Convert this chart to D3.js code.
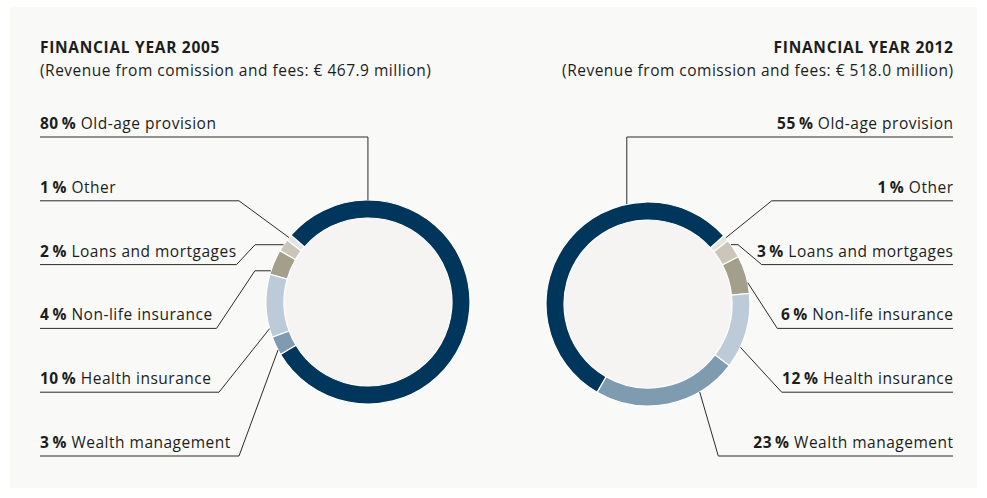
<!DOCTYPE html>
<html>
<head>
<meta charset="utf-8">
<script src="https://cdn.jsdelivr.net/npm/d3@7/dist/d3.min.js"></script>
<style>
  html, body { margin: 0; padding: 0; background: #ffffff; }
  svg { display: block; }
  text { font-family: "Open Sans", "Noto Sans", sans-serif; fill: #1d1d1b; }
</style>
</head>
<body>
<svg id="chart" width="987" height="498"></svg>
<script>
// ---------- data ----------
const categories = ["Other", "Loans and mortgages", "Non-life insurance", "Health insurance", "Wealth management", "Old-age provision"];
const values2005 = [1, 2, 4, 10, 3, 80];
const values2012 = [1, 3, 6, 12, 23, 55];
const titles = ["FINANCIAL YEAR 2005", "FINANCIAL YEAR 2012"];
const subtitles = ["(Revenue from comission and fees: \u20AC 467.9 million)", "(Revenue from comission and fees: \u20AC 518.0 million)"];
// order of the labels from top to bottom
const labelOrder = ["Old-age provision", "Other", "Loans and mortgages", "Non-life insurance", "Health insurance", "Wealth management"];

// ---------- style / layout ----------
const colors = {
  "Old-age provision": "#00365c",
  "Wealth management": "#7f9bb0",
  "Health insurance": "#bccbd7",
  "Non-life insurance": "#a39f8b",
  "Loans and mortgages": "#cac6ba",
  "Other": "#e5e4df"
};
const panelFill = "#f9f9f8";
const innerFill = "#f5f4f3";
const rOuter = 102, rInner = 84;
const rowY0 = 137, rowStep = 63.8;
const labelFont = 15.5, labelSpacing = 0.5;

const layouts = [
  {
    values: values2005, cx: 368, cy: 302, startDeg: 311, dir: -1, textX: 40, anchor: "start",
    title: titles[0], subtitle: subtitles[0],
    leader: {
      "Old-age provision": { t: 0.83, type: "vertical" },
      "Other": { t: 0.5, type: "diag", elbow: -129 },
      "Loans and mortgages": { t: 0.45, type: "knee", elbow: -131.5, knee: 28.5 },
      "Non-life insurance": { t: 0.86, type: "knee", elbow: -151.5, knee: 16 },
      "Health insurance": { t: 0.86, type: "diag", elbow: -149 },
      "Wealth management": { t: 0.73, type: "diag", elbow: -129 }
    }
  },
  {
    values: values2012, cx: 648, cy: 304, startDeg: 48, dir: 1, textX: 953, anchor: "end",
    title: titles[1], subtitle: subtitles[1],
    leader: {
      "Old-age provision": { t: 0.697, type: "vertical" },
      "Other": { t: 0.45, type: "diag", elbow: 123.7 },
      "Loans and mortgages": { t: 0.26, type: "knee", elbow: 113.7, knee: 7 },
      "Non-life insurance": { t: 0.72, type: "diag", elbow: 129.3 },
      "Health insurance": { t: 0.72, type: "diag", elbow: 133.7 },
      "Wealth management": { t: 0.27, type: "diag", elbow: 70.3 }
    }
  }
];

const svg = d3.select("#chart");
svg.append("rect").attr("x", 10).attr("y", 7).attr("width", 967).attr("height", 481).attr("fill", panelFill);

const rad = d => d * Math.PI / 180;
const arc = d3.arc().innerRadius(rInner).outerRadius(rOuter);
const rowY = d3.scalePoint().domain(labelOrder).range([rowY0, rowY0 + rowStep * (labelOrder.length - 1)]);

// right-anchored text with letter-spacing: shift so the last glyph ends at x
function placeText(sel, x, anchor, spacing) {
  sel.attr("letter-spacing", spacing);
  if (anchor === "end") sel.attr("x", x + spacing);
  else sel.attr("x", x);
  sel.attr("text-anchor", anchor);
}

layouts.forEach(L => {
  const data = categories.map((c, i) => ({ cat: c, value: L.values[i] }));
  const pie = d3.pie().sort(null).value(d => d.value)
    .startAngle(rad(L.startDeg)).endAngle(rad(L.startDeg + L.dir * 360));
  const arcs = pie(data);

  const g = svg.append("g").attr("transform", `translate(${L.cx},${L.cy})`);
  g.append("circle").attr("r", rInner).attr("fill", innerFill);
  g.selectAll("path.slice").data(arcs).join("path")
    .attr("class", "slice")
    .attr("d", arc)
    .attr("fill", d => colors[d.data.cat])
    .attr("stroke", "#ffffff")
    .attr("stroke-width", 1.2);

  // titles
  const tt = svg.append("text").attr("y", 52.5).attr("font-size", 15.5).attr("font-weight", 700).text(L.title);
  placeText(tt, L.textX, L.anchor, 0.7);
  const st = svg.append("text").attr("y", 75.5).attr("font-size", labelFont).text(L.subtitle);
  placeText(st, L.textX, L.anchor, labelSpacing);

  // labels + leaders
  arcs.forEach(a => {
    const cat = a.data.cat;
    const ld = L.leader[cat];
    const ang = a.startAngle + (a.endAngle - a.startAngle) * ld.t;
    const ax = L.cx + rOuter * Math.sin(ang);
    const ay = L.cy - rOuter * Math.cos(ang);
    const y = rowY(cat);
    const pts = [];
    pts.push([L.textX, y]);
    if (ld.type === "vertical") {
      pts.push([ax, y]);
      pts.push([ax, ay]);
    } else if (ld.type === "diag") {
      pts.push([L.cx + ld.elbow, y]);
      pts.push([ax, ay]);
    } else {
      const kx = ax + (L.dir === -1 ? -ld.knee : ld.knee);
      pts.push([L.cx + ld.elbow, y]);
      pts.push([kx, ay]);
      pts.push([ax, ay]);
    }
    svg.append("path")
      .attr("d", d3.line()(pts))
      .attr("fill", "none")
      .attr("stroke", "#2b2b2b")
      .attr("stroke-width", 1);

    const t = svg.append("text").attr("y", y - 8).attr("font-size", labelFont);
    placeText(t, L.textX, L.anchor, labelSpacing);
    t.append("tspan").attr("font-weight", 700).text(a.data.value + "\u2009%");
    t.append("tspan").text(" " + cat);
  });
});
</script>
</body>
</html>
